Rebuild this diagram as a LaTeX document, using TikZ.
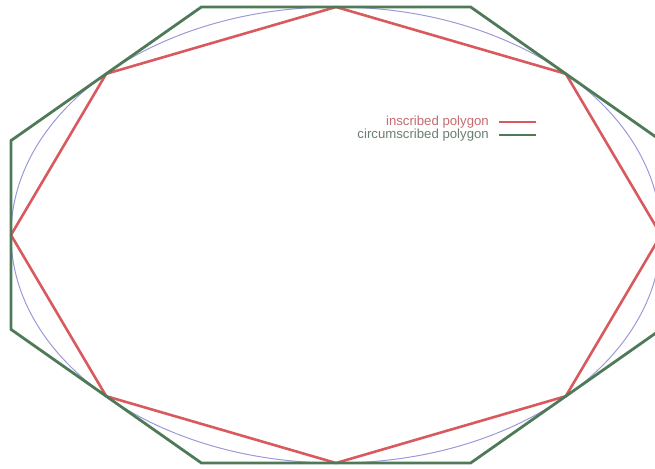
\documentclass[tikz,border=0pt]{standalone}
\usepackage{fontspec}
\setmainfont{Liberation Sans}
\definecolor{ellcol}{HTML}{9A9ADA}
\definecolor{inscol}{HTML}{D85A5E}
\definecolor{circol}{HTML}{4E7A58}
\definecolor{instext}{HTML}{C46A70}
\definecolor{cirtext}{HTML}{6A7E70}
\tikzset{
  ell/.style={draw=ellcol, line width=1pt},
  ins/.style={draw=inscol, line width=2.6pt, line join=round},
  cir/.style={draw=circol, line width=2.8pt, line join=miter},
  legtext/.style={font=\fontsize{13.2}{15}\selectfont, anchor=east, inner sep=0pt},
}
\begin{document}
\begin{tikzpicture}[x=1pt,y=-1pt]
\useasboundingbox (0,0) rectangle (655,468);
% ellipse centre and semi-axes
\coordinate (c) at (336,235);
\draw[ell] (c) ellipse [x radius=325, y radius=228];
% inscribed vertices
\coordinate (i0) at (661,235);
\coordinate (i1) at (565.8,73.8);
\coordinate (i2) at (336,7);
\coordinate (i3) at (106.2,73.8);
\coordinate (i4) at (11,235);
\coordinate (i5) at (106.2,396.2);
\coordinate (i6) at (336,463);
\coordinate (i7) at (565.8,396.2);
\draw[ins] (i0) -- (i1) -- (i2) -- (i3) -- (i4) -- (i5) -- (i6) -- (i7) -- cycle;
% circumscribed vertices
\coordinate (o1) at (661,140.6);
\coordinate (o2) at (470.6,7);
\coordinate (o3) at (201.4,7);
\coordinate (o4) at (11,140.6);
\coordinate (o5) at (11,329.4);
\coordinate (o6) at (201.4,463);
\coordinate (o7) at (470.6,463);
\coordinate (o8) at (661,329.4);
\draw[cir] (o1) -- (o2) -- (o3) -- (o4) -- (o5) -- (o6) -- (o7) -- (o8) -- cycle;
% legend
\node[legtext, text=instext] (lt1) at (489,122) {inscribed polygon};
\node[legtext, text=cirtext] (lt2) at (489,135.5) {circumscribed polygon};
\coordinate (l1a) at (499,121.7);
\coordinate (l1b) at (536,121.7);
\coordinate (l2a) at (499,135);
\coordinate (l2b) at (536,135);
\draw[draw=inscol, line width=2.4pt] (l1a) -- (l1b);
\draw[draw=circol, line width=2.4pt] (l2a) -- (l2b);
\end{tikzpicture}
\end{document}
